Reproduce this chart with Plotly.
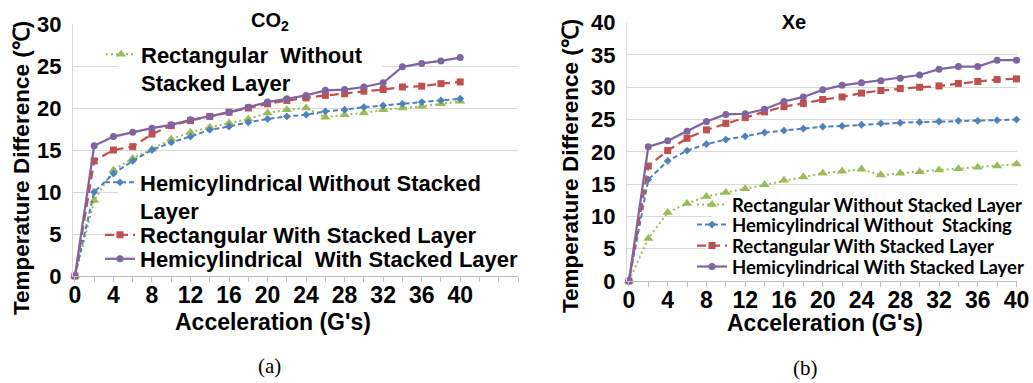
import plotly.graph_objects as go

W, H = 1033, 383

# ---------------- data ----------------
accel = [0, 2, 4, 6, 8, 10, 12, 14, 16, 18, 20, 22, 24, 26, 28, 30, 32, 34, 36, 38, 40]
x_tick_vals = [0, 4, 8, 12, 16, 20, 24, 28, 32, 36, 40]
x_tick_text = ["0", "4", "8", "12", "16", "20", "24", "28", "32", "36", "40"]

co2_rect_without = [0, 9.0, 12.6, 14.0, 15.1, 16.3, 17.1, 17.7, 18.2, 18.7, 19.4, 19.8, 20.0, 18.9, 19.2, 19.4, 19.8, 20.0, 20.2, 20.5, 20.8]
co2_hemi_without = [0, 10.0, 12.2, 13.7, 15.0, 15.9, 16.6, 17.4, 17.8, 18.3, 18.7, 19.0, 19.2, 19.6, 19.8, 20.1, 20.3, 20.5, 20.7, 20.9, 21.1]
co2_rect_with = [0, 13.7, 15.0, 15.4, 16.9, 17.9, 18.5, 19.0, 19.5, 20.0, 20.5, 20.9, 21.2, 21.5, 21.7, 22.0, 22.2, 22.5, 22.6, 22.9, 23.1]
co2_hemi_with = [0, 15.5, 16.6, 17.1, 17.6, 18.0, 18.6, 19.0, 19.5, 20.1, 20.7, 21.1, 21.5, 22.1, 22.2, 22.5, 23.0, 24.9, 25.3, 25.6, 26.0]

xe_rect_without = [0, 6.6, 10.6, 12.0, 13.1, 13.7, 14.3, 14.9, 15.6, 16.1, 16.7, 17.0, 17.3, 16.4, 16.7, 16.9, 17.2, 17.4, 17.6, 17.8, 18.1]
xe_hemi_without = [0, 15.7, 18.6, 20.2, 21.2, 21.9, 22.4, 23.0, 23.3, 23.6, 23.9, 24.0, 24.2, 24.4, 24.5, 24.6, 24.7, 24.8, 24.8, 24.9, 25.0]
xe_rect_with = [0, 17.8, 20.2, 22.1, 23.4, 24.4, 25.3, 26.2, 27.0, 27.5, 28.1, 28.5, 29.1, 29.5, 29.8, 30.0, 30.2, 30.6, 30.9, 31.2, 31.3]
xe_hemi_with = [0, 20.8, 21.7, 23.2, 24.7, 25.8, 25.9, 26.6, 27.8, 28.5, 29.6, 30.3, 30.7, 31.0, 31.4, 31.9, 32.8, 33.2, 33.2, 34.2, 34.2]

co2_names = ["Rectangular  Without<br>Stacked Layer",
             "Hemicylindrical Without Stacked<br>Layer",
             "Rectangular With Stacked Layer",
             "Hemicylindrical  With Stacked Layer"]
xe_names = ["Rectangular Without Stacked Layer",
            "Hemicylindrical Without  Stacking",
            "Rectangular With Stacked Layer",
            "Hemicylindrical With Stacked Layer"]

# ---------------- styles ----------------
GREEN, BLUE, RED, PURPLE = "#9BBB59", "#4F81BD", "#C0504D", "#8064A2"
styles = [
    dict(color=GREEN, dash="2px,3px", symbol="triangle-up", size=9, width=2),
    dict(color=BLUE, dash="5px,3px", symbol="diamond", size=6, width=2),
    dict(color=RED, dash="9px,5px", symbol="square", size=7, width=2.25),
    dict(color=PURPLE, dash="solid", symbol="circle", size=7, width=2.25),
]
ARIAL = "Liberation Sans, Arial, sans-serif"
CALIBRI = "Lato, Carlito, Calibri, sans-serif"

def px_x(p):
    return p / W

def px_y(p):
    return 1 - p / H

# plot areas in pixels and axis ranges
L_X0, L_X1, L_Y0, L_Y1 = 73, 518, 24, 276
R_X0, R_X1, R_Y0, R_Y1 = 627, 1017, 22.7, 281
L_XR, L_YR = [-0.2, 46], [0, 30]
R_XR, R_YR = [-0.2, 40.05], [0, 40]

fig = go.Figure()

co2_series = [co2_rect_without, co2_hemi_without, co2_rect_with, co2_hemi_with]
xe_series = [xe_rect_without, xe_hemi_without, xe_rect_with, xe_hemi_with]

LEG_OFF = 41
left_leg_pos = [(142, 69), (141, 197), (141, 235), (141, 259)]
right_leg_pos = [(733, 205), (733, 225), (733, 246), (733, 267)]

for i, (vals, name, st) in enumerate(zip(co2_series, co2_names, styles)):
    fig.add_trace(go.Scatter(
        x=accel, y=vals, name=name, mode="lines+markers",
        line=dict(color=st["color"], dash=st["dash"], width=st["width"]),
        marker=dict(color=st["color"], symbol=st["symbol"], size=st["size"]),
        xaxis="x", yaxis="y", cliponaxis=False,
        legend="legend" if i == 0 else f"legend{i+1}",
    ))
for i, (vals, name, st) in enumerate(zip(xe_series, xe_names, styles)):
    fig.add_trace(go.Scatter(
        x=accel, y=vals, name=name, mode="lines+markers",
        line=dict(color=st["color"], dash=st["dash"], width=st["width"]),
        marker=dict(color=st["color"], symbol=st["symbol"], size=st["size"]),
        xaxis="x2", yaxis="y2", cliponaxis=False,
        legend=f"legend{i+5}",
    ))

legends = {}
for i, (tx, ty) in enumerate(left_leg_pos):
    key = "legend" if i == 0 else f"legend{i+1}"
    legends[key] = dict(x=px_x(tx - LEG_OFF), xanchor="left", y=px_y(ty), yanchor="middle",
                        bgcolor="rgba(0,0,0,0)", borderwidth=0, valign="top",
                        font=dict(family=ARIAL, size=22, color="black", weight="bold"))
for i, (tx, ty) in enumerate(right_leg_pos):
    key = f"legend{i+5}"
    legends[key] = dict(x=px_x(tx - LEG_OFF), xanchor="left", y=px_y(ty), yanchor="middle",
                        bgcolor="rgba(0,0,0,0)", borderwidth=0, valign="top",
                        font=dict(family=CALIBRI, size=18.5, color="black", weight="bold"))

axis_grey = "#BFBFBF"
grid_grey = "#D9D9D9"

def xaxis_cfg(dom, rng, minor_vals, anchor):
    return dict(domain=dom, range=rng, tickvals=x_tick_vals, ticktext=x_tick_text,
                ticks="outside", ticklen=5, tickcolor=axis_grey, showline=True,
                linecolor=axis_grey, showgrid=False, zeroline=False, automargin=False,
                anchor=anchor, ticklabelstandoff=-7,
                minor=dict(tickvals=minor_vals, ticks="outside", ticklen=5, tickcolor=axis_grey, showgrid=False),
                tickfont=dict(family=ARIAL, size=23, color="black", weight="bold"))

def yaxis_cfg(dom, rng, anchor):
    return dict(domain=dom, range=rng, dtick=5, tick0=0, gridcolor=grid_grey, gridwidth=1,
                showline=True, linecolor=grid_grey, zeroline=False, ticks="",
                ticklabelstandoff=6, anchor=anchor, automargin=False,
                tickfont=dict(family=ARIAL, size=22, color="black", weight="bold"))

fig.update_layout(
    width=W, height=H, autosize=False,
    margin=dict(l=0, r=0, t=0, b=0, autoexpand=False),
    paper_bgcolor="white", plot_bgcolor="white",
    showlegend=True,
    xaxis=xaxis_cfg([px_x(L_X0), px_x(L_X1)], L_XR, list(range(0, 47, 2)), "y"),
    yaxis=yaxis_cfg([px_y(L_Y1), px_y(L_Y0)], L_YR, "x"),
    xaxis2=xaxis_cfg([px_x(R_X0), px_x(R_X1)], R_XR, list(range(0, 41, 2)), "y2"),
    yaxis2=yaxis_cfg([px_y(R_Y1), px_y(R_Y0)], R_YR, "x2"),
    **legends,
)

# white legend backgrounds (drawn above gridlines, below traces)
def bg_rect(xa, ya, x0p, x1p, y0p, y1p, X0, X1, Y0, Y1, XR, YR):
    fx = lambda p: XR[0] + (p - X0) / (X1 - X0) * (XR[1] - XR[0])
    fy = lambda p: YR[0] + (Y1 - p) / (Y1 - Y0) * (YR[1] - YR[0])
    fig.add_shape(type="rect", xref=xa, yref=ya,
                  x0=fx(x0p), x1=fx(x1p), y0=fy(y1p), y1=fy(y0p),
                  fillcolor="white", line=dict(width=0), layer="between")

bg_rect("x", "y", 118, 382, 44, 96, L_X0, L_X1, L_Y0, L_Y1, L_XR, L_YR)
bg_rect("x", "y", 118, 518, 172, 272, L_X0, L_X1, L_Y0, L_Y1, L_XR, L_YR)
bg_rect("x2", "y2", 712, 1017, 194, 278, R_X0, R_X1, R_Y0, R_Y1, R_XR, R_YR)

annots = [
    dict(text="Temperature Difference (℃)", x=px_x(21), y=px_y(168), textangle=-90,
         font=dict(family=ARIAL, size=22.5, color="black", weight="bold")),
    dict(text="Temperature Difference (℃)", x=px_x(571), y=px_y(166), textangle=-90,
         font=dict(family=ARIAL, size=22.5, color="black", weight="bold")),
    dict(text="Acceleration (G's)", x=px_x(273), y=px_y(322),
         font=dict(family=ARIAL, size=23, color="black", weight="bold")),
    dict(text="Acceleration (G's)", x=px_x(825), y=px_y(323),
         font=dict(family=ARIAL, size=23, color="black", weight="bold")),
    dict(text="CO<sub>2</sub>", x=px_x(253), y=px_y(22), width=72, align="right", bgcolor="white",
         font=dict(family=ARIAL, size=20, color="black", weight="bold")),
    dict(text="Xe", x=px_x(794), y=px_y(22), width=104, align="center", bgcolor="white",
         font=dict(family=ARIAL, size=20, color="black", weight="bold")),
    dict(text="(a)", x=px_x(269), y=px_y(366),
         font=dict(family="Liberation Serif, Times New Roman, serif", size=21, color="black")),
    dict(text="(b)", x=px_x(805), y=px_y(368),
         font=dict(family="Liberation Serif, Times New Roman, serif", size=21, color="black")),
]
for a in annots:
    fig.add_annotation(xref="paper", yref="paper", showarrow=False,
                       xanchor="center", yanchor="middle", **a)

fig.write_html("out.html")
